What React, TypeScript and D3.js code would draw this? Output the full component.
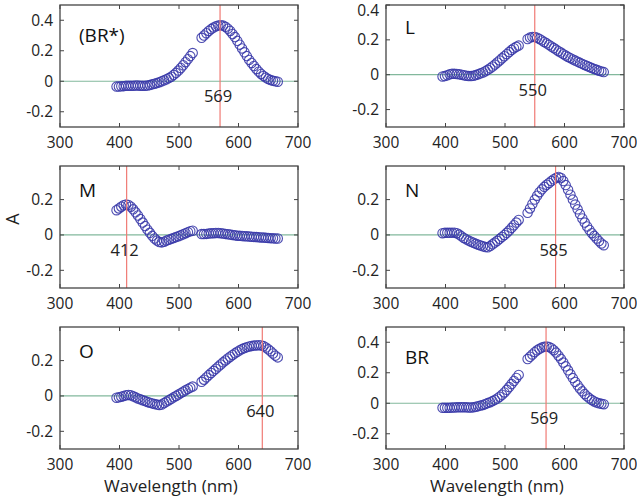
import React, { useEffect, useRef } from 'react';
import * as d3 from 'd3';

// 波长 (nm)，两段之间有缺口
const wavelengths = [
  395, 399, 403, 407, 411, 415, 419, 423, 427, 431, 435, 439, 443, 447, 451, 455, 459,
  463, 467, 471, 475, 479, 483, 487, 491, 495, 499, 503, 507, 511, 515, 519, 523,
  538, 542, 546, 550, 554, 558, 562, 566, 570, 574, 578, 582, 586, 590, 594, 598, 602,
  606, 610, 614, 618, 622, 626, 630, 634, 638, 642, 646, 650, 654, 658, 662, 666,
];

const absBRstar = [
  -0.035, -0.035, -0.033, -0.032, -0.03, -0.03, -0.03, -0.03, -0.028, -0.028, -0.03, -0.03, -0.03, -0.028, -0.025, -0.02, -0.016,
  -0.012, -0.006, 0.0, 0.006, 0.013, 0.021, 0.03, 0.042, 0.055, 0.07, 0.087, 0.105, 0.125, 0.145, 0.165, 0.185,
  0.285, 0.3, 0.315, 0.33, 0.342, 0.352, 0.36, 0.365, 0.367, 0.365, 0.357, 0.345, 0.33, 0.31, 0.29, 0.265, 0.24,
  0.215, 0.19, 0.165, 0.14, 0.12, 0.1, 0.08, 0.063, 0.048, 0.035, 0.024, 0.015, 0.008, 0.003, 0.0, -0.003,
];

const absL = [
  -0.01, -0.008, -0.003, 0.002, 0.005, 0.005, 0.004, 0.002, 0.0, -0.003, -0.006, -0.008, -0.008, -0.006, -0.002, 0.003, 0.008,
  0.013, 0.02, 0.028, 0.037, 0.047, 0.058, 0.07, 0.082, 0.094, 0.106, 0.118, 0.13, 0.142, 0.152, 0.16, 0.167,
  0.205, 0.213, 0.217, 0.216, 0.212, 0.205, 0.197, 0.188, 0.18, 0.171, 0.162, 0.153, 0.144, 0.135, 0.127, 0.118, 0.11,
  0.102, 0.095, 0.088, 0.081, 0.075, 0.068, 0.062, 0.056, 0.05, 0.044, 0.038, 0.033, 0.028, 0.023, 0.019, 0.015,
];

const absM = [
  0.14, 0.15, 0.16, 0.168, 0.172, 0.17, 0.16, 0.145, 0.128, 0.11, 0.09, 0.07, 0.05, 0.03, 0.012, -0.005, -0.02,
  -0.032, -0.04, -0.042, -0.038, -0.032, -0.027, -0.022, -0.017, -0.012, -0.007, -0.002, 0.004, 0.01, 0.016, 0.021, 0.024,
  0.005, 0.005, 0.006, 0.008, 0.009, 0.01, 0.011, 0.011, 0.01, 0.008, 0.006, 0.004, 0.002, 0.0, -0.002, -0.004, -0.005,
  -0.006, -0.007, -0.008, -0.009, -0.01, -0.011, -0.012, -0.013, -0.014, -0.015, -0.016, -0.017, -0.018, -0.019, -0.02, -0.02,
];

const absN = [
  0.01, 0.012, 0.012, 0.012, 0.013, 0.013, 0.01, 0.002, -0.008, -0.017, -0.025, -0.032, -0.038, -0.044, -0.05, -0.055, -0.06,
  -0.064, -0.068, -0.07, -0.063, -0.053, -0.043, -0.033, -0.022, -0.011, 0.0, 0.012, 0.025, 0.04, 0.055, 0.07, 0.085,
  0.125, 0.15, 0.175, 0.2, 0.222, 0.242, 0.258, 0.272, 0.284, 0.294, 0.305, 0.315, 0.323, 0.328, 0.322, 0.305, 0.282,
  0.256, 0.228, 0.2, 0.172, 0.145, 0.118, 0.093, 0.07, 0.048, 0.028, 0.01, -0.005, -0.02, -0.035, -0.048, -0.058,
];

const absO = [
  -0.01, -0.008, -0.004, 0.0, 0.004, 0.006, 0.004, -0.002, -0.008, -0.014, -0.019, -0.024, -0.029, -0.034, -0.038, -0.042, -0.046,
  -0.049, -0.051, -0.048, -0.04, -0.032, -0.024, -0.016, -0.008, 0.0, 0.008, 0.016, 0.024, 0.032, 0.04, 0.047, 0.053,
  0.08, 0.092, 0.105, 0.118, 0.13, 0.142, 0.154, 0.166, 0.178, 0.19, 0.201, 0.212, 0.222, 0.232, 0.241, 0.25, 0.258,
  0.265, 0.271, 0.276, 0.28, 0.283, 0.285, 0.286, 0.287, 0.286, 0.282, 0.274, 0.264, 0.253, 0.24, 0.228, 0.218,
];

const absBR = [
  -0.03, -0.03, -0.03, -0.03, -0.028, -0.028, -0.027, -0.027, -0.026, -0.026, -0.027, -0.028, -0.028, -0.026, -0.023, -0.019, -0.015,
  -0.011, -0.005, 0.001, 0.007, 0.014, 0.022, 0.031, 0.043, 0.056, 0.071, 0.088, 0.106, 0.126, 0.146, 0.166, 0.186,
  0.29, 0.305, 0.32, 0.335, 0.347, 0.357, 0.365, 0.37, 0.372, 0.369, 0.361, 0.348, 0.332, 0.312, 0.291, 0.267, 0.242,
  0.216, 0.19, 0.165, 0.14, 0.118, 0.097, 0.078, 0.06, 0.045, 0.032, 0.021, 0.012, 0.005, 0.0, -0.004, -0.006,
];

const panelNames = ['(BR*)', 'L', 'M', 'N', 'O', 'BR'];
const panelValues = [absBRstar, absL, absM, absN, absO, absBR];
const peakNm = [569, 550, 412, 585, 640, 569];
const yTopLimit = [0.5, 0.4, 0.39, 0.39, 0.39, 0.5];
const xTicks = [300, 400, 500, 600, 700];
const yTicksAll = [-0.2, 0, 0.2, 0.4];

const FONT = "'Open Sans', 'Liberation Sans', sans-serif";

const App = () => {
  const ref = useRef<SVGSVGElement | null>(null);

  useEffect(() => {
    if (ref.current) draw();
  }, []);

  const draw = () => {
    const svg = d3.select(ref.current);
    svg.selectAll('*').remove();

    // 布局
    const colLeft = [60, 386];
    const rowTop = [5, 166, 327];
    const w = 238;
    const h = 122;
    const labelDy = [37, 29, 31, 31, 31, 37];

    panelNames.forEach((name, i) => {
      const x0 = colLeft[i % 2];
      const y0 = rowTop[Math.floor(i / 2)];
      const g = svg.append('g').attr('transform', `translate(${x0},${y0})`);

      const x = d3.scaleLinear().domain([300, 700]).range([0, w]);
      const y = d3.scaleLinear().domain([-0.3, yTopLimit[i]]).range([h, 0]);
      const yTicks = yTicksAll.filter(t => t <= yTopLimit[i] + 1e-9);

      // 零线
      g.append('line')
        .attr('x1', 0).attr('x2', w)
        .attr('y1', y(0)).attr('y2', y(0))
        .attr('stroke', '#82b89c')
        .attr('stroke-width', 1.2);

      // 散点
      const pts = wavelengths.map((wl, k) => ({ wl, a: panelValues[i][k] }));
      g.append('g')
        .selectAll('circle')
        .data(pts)
        .enter()
        .append('circle')
        .attr('cx', d => x(d.wl))
        .attr('cy', d => y(d.a))
        .attr('r', 4.7)
        .attr('fill', 'none')
        .attr('stroke', '#3838a8')
        .attr('stroke-opacity', 0.9)
        .attr('stroke-width', 1.1);

      // 峰值线
      g.append('line')
        .attr('x1', x(peakNm[i])).attr('x2', x(peakNm[i]))
        .attr('y1', 0).attr('y2', h)
        .attr('stroke', '#f07a74')
        .attr('stroke-width', 1.2);

      g.append('text')
        .attr('x', x(peakNm[i]) - 2)
        .attr('y', y(0) + 21)
        .attr('text-anchor', 'middle')
        .style('font-family', FONT)
        .style('font-size', '16.5px')
        .style('fill', '#222')
        .text(peakNm[i]);

      // 框和刻度
      g.append('rect')
        .attr('width', w).attr('height', h)
        .attr('fill', 'none')
        .attr('stroke', '#444')
        .attr('stroke-width', 1.3);

      const tl = 4;
      xTicks.forEach(t => {
        g.append('line').attr('x1', x(t)).attr('x2', x(t)).attr('y1', h).attr('y2', h - tl).attr('stroke', '#444');
        g.append('line').attr('x1', x(t)).attr('x2', x(t)).attr('y1', 0).attr('y2', tl).attr('stroke', '#444');
        g.append('text')
          .attr('x', x(t))
          .attr('y', h + 21)
          .attr('text-anchor', 'middle')
          .style('font-family', FONT)
          .style('font-size', '15.5px')
          .style('fill', '#222')
          .text(t);
      });

      yTicks.forEach(t => {
        g.append('line').attr('x1', 0).attr('x2', tl).attr('y1', y(t)).attr('y2', y(t)).attr('stroke', '#444');
        g.append('line').attr('x1', w).attr('x2', w - tl).attr('y1', y(t)).attr('y2', y(t)).attr('stroke', '#444');
        g.append('text')
          .attr('x', -7)
          .attr('y', Math.max(y(t), 6))
          .attr('dy', '0.35em')
          .attr('text-anchor', 'end')
          .style('font-family', FONT)
          .style('font-size', '15.5px')
          .style('fill', '#222')
          .text(t === 0 ? '0' : d3.format('.1f')(t).replace('−', '-'));
      });

      // 面板名
      g.append('text')
        .attr('x', 19)
        .attr('y', labelDy[i])
        .style('font-family', FONT)
        .style('font-size', '19px')
        .style('fill', '#111')
        .text(name);

      // x 轴标题
      if (i >= 4) {
        g.append('text')
          .attr('x', w / 2 - 8)
          .attr('y', h + 43)
          .attr('text-anchor', 'middle')
          .style('font-family', FONT)
          .style('font-size', '17px')
          .style('fill', '#222')
          .text('Wavelength (nm)');
      }
    });

    // y 轴标题
    svg.append('text')
      .attr('transform', 'translate(19,219) rotate(-90)')
      .attr('text-anchor', 'middle')
      .style('font-family', FONT)
      .style('font-size', '18px')
      .style('fill', '#222')
      .text('A');
  };

  return (
    <svg
      ref={ref}
      width={637}
      height={500}
      style={{ position: 'absolute', left: 0, top: 0, background: '#fff' }}
    />
  );
};

export default App;
